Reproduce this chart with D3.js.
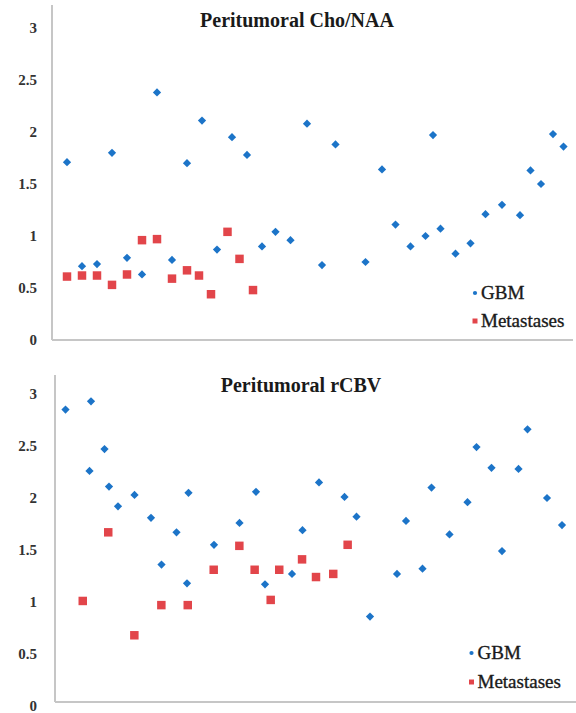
<!DOCTYPE html>
<html>
<head>
<meta charset="utf-8">
<script src="https://cdn.jsdelivr.net/npm/d3@7"></script>
<style>
  html, body { margin: 0; padding: 0; background: #fff; }
  svg { display: block; }
  svg text { font-family: "Liberation Serif", "Times New Roman", Times, serif; }
</style>
</head>
<body>
<svg id="chart" width="576" height="713"></svg>
<script>
// ---- Data ----
const seriesNames = ["GBM", "Metastases"];
const tickValues = [0, 0.5, 1, 1.5, 2, 2.5, 3];
const tickLabels = ["0", "0.5", "1", "1.5", "2", "2.5", "3"];

// Chart 1: Peritumoral Cho/NAA
const choTitle = "Peritumoral Cho/NAA";
const choGbmX = [1,2,3,4,5,6,7,8,9,10,11,12,13,14,14.9,15.9,17,18,18.9,20.9,22,22.9,23.9,24.9,25.4,25.9,26.9,27.9,28.9,30,31.2,31.9,32.6,33.4,34.1];
const choGbmY = [1.71,0.71,0.73,1.80,0.79,0.63,2.38,0.77,1.70,2.11,0.87,1.95,1.78,0.90,1.04,0.96,2.08,0.72,1.88,0.75,1.64,1.11,0.90,1.00,1.97,1.07,0.83,0.93,1.21,1.30,1.20,1.63,1.50,1.98,1.86];
const choMetX = [1,2,3,4,5,6,7,8,9,9.8,10.6,11.7,12.5,13.4];
const choMetY = [0.61,0.62,0.62,0.53,0.63,0.96,0.97,0.59,0.67,0.62,0.44,1.04,0.78,0.48];

// Chart 2: Peritumoral rCBV
const cbvTitle = "Peritumoral rCBV";
const cbvGbmX = [0.7,2.4,2.3,3.3,3.6,4.2,5.3,6.4,7.1,8.1,8.8,8.9,10.6,12.3,13.4,14.0,15.8,16.5,17.6,19.3,20.1,21.0,22.8,23.4,24.5,25.1,26.3,27.5,28.1,29.1,29.8,30.9,31.5,32.8,33.8];
const cbvGbmY = [2.85,2.93,2.26,2.47,2.11,1.92,2.03,1.81,1.36,1.67,1.18,2.05,1.55,1.76,2.06,1.17,1.27,1.69,2.15,2.01,1.82,0.86,1.27,1.78,1.32,2.10,1.65,1.96,2.49,2.29,1.49,2.28,2.66,2.00,1.74];
const cbvMetX = [1.85,3.55,5.29,7.09,8.85,10.58,12.29,13.31,14.38,14.95,16.47,17.4,18.55,19.51];
const cbvMetY = [1.01,1.67,0.68,0.97,0.97,1.31,1.54,1.31,1.02,1.31,1.41,1.24,1.27,1.55];

// ---- Styles ----
const BLUE = "#1c74c8";
const RED = "#e2454a";
const AXIS = "#c6c6c6";

const svg = d3.select("#chart");

function drawPanel(cfg) {
  const g = svg.append("g");
  const x = d3.scaleLinear().domain([0, 35]).range([cfg.left, cfg.left + 525]);
  const y = d3.scaleLinear().domain([0, 3]).range([cfg.zeroY, cfg.zeroY - 312]);

  // axis frame lines
  g.append("line").attr("x1", cfg.left).attr("x2", cfg.left)
    .attr("y1", cfg.axisTop).attr("y2", cfg.baseY)
    .attr("stroke", AXIS).attr("stroke-width", 2);
  g.append("line").attr("x1", cfg.left).attr("x2", cfg.right)
    .attr("y1", cfg.baseY).attr("y2", cfg.baseY)
    .attr("stroke", AXIS).attr("stroke-width", 2);

  // y axis labels
  const yAxis = d3.axisLeft(y).tickValues(tickValues)
    .tickFormat((d, i) => tickLabels[i]).tickSize(0).tickPadding(0);
  const ag = g.append("g").attr("transform", `translate(${cfg.labelX},0)`).call(yAxis);
  ag.select(".domain").remove();
  ag.selectAll("text").attr("font-family", null).attr("font-size", 15)
    .attr("font-weight", "bold").attr("fill", "#333");
  ag.attr("font-family", null);

  // title
  g.append("text").attr("x", cfg.titleX).attr("y", cfg.titleY)
    .attr("text-anchor", "middle")
    .attr("font-size", 20).attr("font-weight", "bold").attr("fill", "#1a1a1a")
    .text(cfg.title);

  const diamond = d3.symbol().type(d3.symbolSquare).size(34);
  const square = d3.symbol().type(d3.symbolSquare).size(72);

  // metastases
  g.append("g").selectAll("path").data(cfg.metX.map((d, i) => [d, cfg.metY[i]]))
    .join("path")
    .attr("d", square)
    .attr("transform", d => `translate(${x(d[0])},${y(d[1])})`)
    .attr("fill", RED);

  // GBM
  g.append("g").selectAll("path").data(cfg.gbmX.map((d, i) => [d, cfg.gbmY[i]]))
    .join("path")
    .attr("d", diamond)
    .attr("transform", d => `translate(${x(d[0])},${y(d[1])}) rotate(45)`)
    .attr("fill", BLUE);

  // legend
  const lg = g.append("g");
  lg.append("path").attr("d", d3.symbol().type(d3.symbolCircle).size(14))
    .attr("transform", `translate(${cfg.legX},${cfg.legY1})`).attr("fill", BLUE);
  lg.append("text").attr("x", cfg.legX + 6).attr("y", cfg.legY1 + 6)
    .attr("font-size", 19).attr("fill", "#1a1a1a")
    .attr("stroke", "#1a1a1a").attr("stroke-width", 0.35)
    .text(seriesNames[0]);
  lg.append("path").attr("d", d3.symbol().type(d3.symbolSquare).size(25))
    .attr("transform", `translate(${cfg.legX},${cfg.legY2})`).attr("fill", RED);
  lg.append("text").attr("x", cfg.legX + 6).attr("y", cfg.legY2 + 6)
    .attr("font-size", 19).attr("fill", "#1a1a1a")
    .attr("stroke", "#1a1a1a").attr("stroke-width", 0.35)
    .text(seriesNames[1]);
}

drawPanel({
  title: choTitle, gbmX: choGbmX, gbmY: choGbmY, metX: choMetX, metY: choMetY,
  left: 52, right: 573, axisTop: 5, baseY: 340, zeroY: 340, labelX: 37,
  titleX: 297, titleY: 27, legX: 475, legY1: 293, legY2: 321
});

drawPanel({
  title: cbvTitle, gbmX: cbvGbmX, gbmY: cbvGbmY, metX: cbvMetX, metY: cbvMetY,
  left: 55, right: 576, axisTop: 375, baseY: 702, zeroY: 706, labelX: 37,
  titleX: 301, titleY: 392, legX: 471.5, legY1: 653, legY2: 682
});
</script>
</body>
</html>
